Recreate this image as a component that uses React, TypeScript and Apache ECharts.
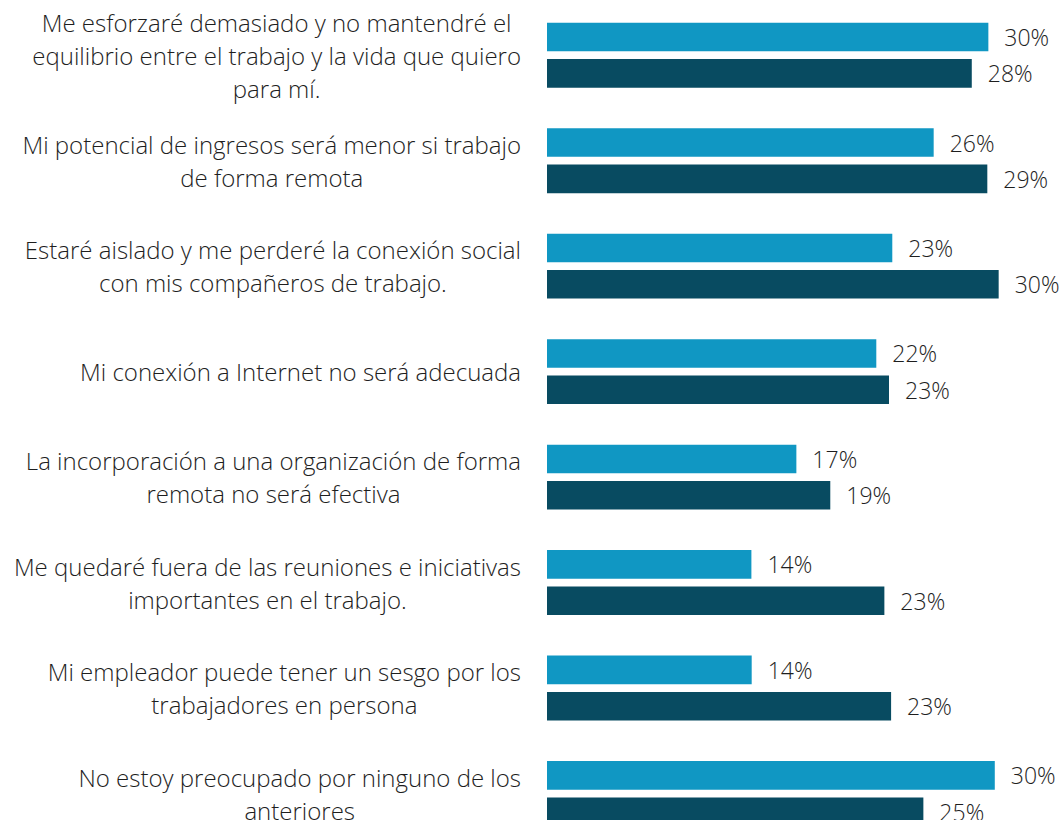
import React, { useEffect, useRef } from "react";
import * as echarts from "echarts";

const categories: string[] = [
  "Me esforzaré demasiado y no mantendré el\nequilibrio entre el trabajo y la vida que quiero\npara mí.",
  "Mi potencial de ingresos será menor si trabajo\nde forma remota",
  "Estaré aislado y me perderé la conexión social\ncon mis compañeros de trabajo.",
  "Mi conexión a Internet no será adecuada",
  "La incorporación a una organización de forma\nremota no será efectiva",
  "Me quedaré fuera de las reuniones e iniciativas\nimportantes en el trabajo.",
  "Mi empleador puede tener un sesgo por los\ntrabajadores en persona",
  "No estoy preocupado por ninguno de los\nanteriores",
];

const seriesA: number[] = [29.54, 25.88, 23.11, 22.04, 16.69, 13.68, 13.7, 29.97];
const seriesB: number[] = [28.43, 29.47, 30.23, 22.89, 18.96, 22.58, 23.03, 25.19];

const FONT = "'Open Sans', 'Noto Sans', sans-serif";
const TEXT_COLOR = "#1e1e1e";

export default function App() {
  const ref = useRef<HTMLDivElement>(null);
  useEffect(() => {
    if (!ref.current) return;
    const chart = echarts.init(ref.current, undefined, { renderer: "svg" });
    const label = {
      show: true,
      position: "right" as const,
      distance: 16,
      fontFamily: FONT,
      fontWeight: 300,
      fontSize: 23,
      color: TEXT_COLOR,
      formatter: (p: any) => Math.round(p.value) + "%",
    };
    chart.setOption({
      animation: false,
      backgroundColor: "#ffffff",
      grid: { left: 547, right: 4, top: 2.46, height: 843.8, containLabel: false },
      xAxis: {
        type: "value",
        min: 0,
        max: 34,
        show: false,
        splitLine: { show: false },
      },
      yAxis: {
        type: "category",
        data: categories,
        inverse: true,
        axisLine: { show: false },
        axisTick: { show: false },
        splitLine: { show: false },
        axisLabel: {
          align: "right",
          margin: 26,
          fontFamily: FONT,
          fontWeight: 300,
          fontSize: 24,
          lineHeight: 33,
          color: TEXT_COLOR,
          formatter: (v: string) =>
            v
              .split("\n")
              .map((l) => `{c|${l}}`)
              .join("\n"),
          rich: {
            c: {
              align: "center",
              fontFamily: FONT,
              fontWeight: 300,
              fontSize: 24,
              lineHeight: 33,
              color: TEXT_COLOR,
            },
          },
        },
      },
      series: [
        {
          type: "bar",
          data: seriesA,
          barWidth: 28.6,
          barGap: "27%",
          itemStyle: { color: "#1097C3" },
          label,
        },
        {
          type: "bar",
          data: seriesB,
          barWidth: 28.6,
          itemStyle: { color: "#084B61" },
          label,
        },
      ],
    });
    return () => chart.dispose();
  }, []);
  return (
    <div
      style={{
        position: "fixed",
        left: 0,
        top: 0,
        width: 1059,
        height: 820,
        overflow: "hidden",
        background: "#fff",
      }}
    >
      <div ref={ref} style={{ width: 1059, height: 850 }} />
    </div>
  );
}
